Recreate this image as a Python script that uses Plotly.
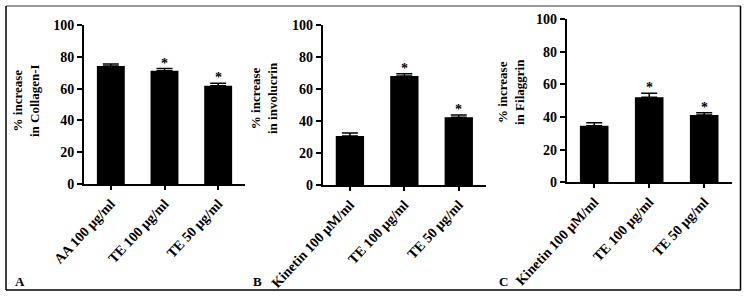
import plotly.graph_objects as go

# Data
cats_a = ["AA 100 µg/ml", "TE 100 µg/ml", "TE 50 µg/ml"]
vals_a = [74.2, 71.3, 61.8]
err_a = [1.3, 1.3, 1.6]
sig_a = [False, True, True]

cats_b = ["Kinetin 100 µM/ml", "TE 100 µg/ml", "TE 50 µg/ml"]
vals_b = [30.6, 68.1, 42.3]
err_b = [1.9, 1.4, 1.4]
sig_b = [False, True, True]

cats_c = ["Kinetin 100 µM/ml", "TE 100 µg/ml", "TE 50 µg/ml"]
vals_c = [34.6, 52.1, 41.2]
err_c = [1.8, 2.4, 1.4]
sig_c = [False, True, True]

ytitles = ["% increase<br>in Collagen-I", "% increase<br>in involucrin", "% increase<br>in Filaggrin"]
panel_labels = ["A", "B", "C"]
yticks = [0, 20, 40, 60, 80, 100]

W, H = 750, 298
FONT = "Liberation Serif"

# pixel geometry of each panel: (x_left, x_right, y_zero, y_hundred)
geom = [(84, 245, 184, 25), (322.7, 486, 185, 25), (566.7, 731.7, 182.3, 19)]
title_x = [26, 264, 511]
title_y = [101, 98, 92]
label_x = [20, 257, 503]

fig = go.Figure()
panels = [(cats_a, vals_a, err_a, sig_a), (cats_b, vals_b, err_b, sig_b), (cats_c, vals_c, err_c, sig_c)]

for i, (cats, vals, errs, sigs) in enumerate(panels):
    n = "" if i == 0 else str(i + 1)
    xa, ya = "x" + n, "y" + n
    fig.add_trace(go.Bar(
        x=cats, y=vals, xaxis=xa, yaxis=ya,
        marker=dict(color="black", line=dict(width=0)),
        width=0.52,
        error_y=dict(type="data", array=errs, symmetric=False,
                     arrayminus=[0] * len(errs), color="black",
                     thickness=1.5, width=8),
        showlegend=False, hoverinfo="skip",
    ))
    xl, xr, y0, y100 = geom[i]
    fig.layout["xaxis" + n] = dict(
        domain=[xl / W, xr / W], anchor=ya, automargin=False,
        range=[-0.5, 2.5], showline=True, linecolor="black", linewidth=2,
        ticks="outside", ticklen=4, tickwidth=1.5, tickcolor="black",
        tickangle=-47, showgrid=False, zeroline=False,
        tickfont=dict(family=FONT, size=14, color="black", weight="bold"),
    )
    fig.layout["yaxis" + n] = dict(
        domain=[(H - y0) / H, (H - y100) / H], anchor=xa, automargin=False,
        range=[0, 100], tickvals=yticks, showline=True, linecolor="black",
        linewidth=2, ticks="outside", ticklen=5, tickwidth=1.5, tickcolor="black",
        showgrid=False, zeroline=False,
        tickfont=dict(family=FONT, size=14, color="black", weight="bold"),
    )
    for j, (c, v, e, s) in enumerate(zip(cats, vals, errs, sigs)):
        if s:
            fig.add_annotation(x=c, y=v + e, xref=xa, yref=ya, text="*",
                               showarrow=False, yanchor="bottom", yshift=-4,
                               font=dict(family=FONT, size=14, color="black", weight="bold"))
    fig.add_annotation(x=title_x[i] / W, y=(H - title_y[i]) / H, xref="paper", yref="paper",
                       text=ytitles[i], showarrow=False, textangle=-90,
                       xanchor="center", yanchor="middle",
                       font=dict(family=FONT, size=13, color="black", weight="bold"))
    fig.add_annotation(x=label_x[i] / W, y=(H - 281) / H, xref="paper", yref="paper",
                       text=panel_labels[i], showarrow=False,
                       xanchor="center", yanchor="middle",
                       font=dict(family=FONT, size=13, color="black", weight="bold"))

# frame
fig.add_shape(type="line", xref="paper", yref="paper", x0=6 / W, x1=741 / W,
              y0=(H - 6) / H, y1=(H - 6) / H, line=dict(color="#999999", width=2))
fig.add_shape(type="line", xref="paper", yref="paper", x0=6 / W, x1=6 / W,
              y0=(H - 6) / H, y1=(H - 290) / H, line=dict(color="black", width=1.5))
fig.add_shape(type="line", xref="paper", yref="paper", x0=740.5 / W, x1=740.5 / W,
              y0=(H - 6) / H, y1=(H - 290) / H, line=dict(color="black", width=1.5))
fig.add_shape(type="line", xref="paper", yref="paper", x0=6 / W, x1=741 / W,
              y0=(H - 290) / H, y1=(H - 290) / H, line=dict(color="black", width=1.5))

fig.update_layout(width=W, height=H, margin=dict(l=0, r=0, t=0, b=0, autoexpand=False),
                  paper_bgcolor="white", plot_bgcolor="white", bargap=0.5)

fig.write_html("out.html", config={"displayModeBar": False},
               post_script="document.body.style.margin='0';document.body.style.padding='0';")
